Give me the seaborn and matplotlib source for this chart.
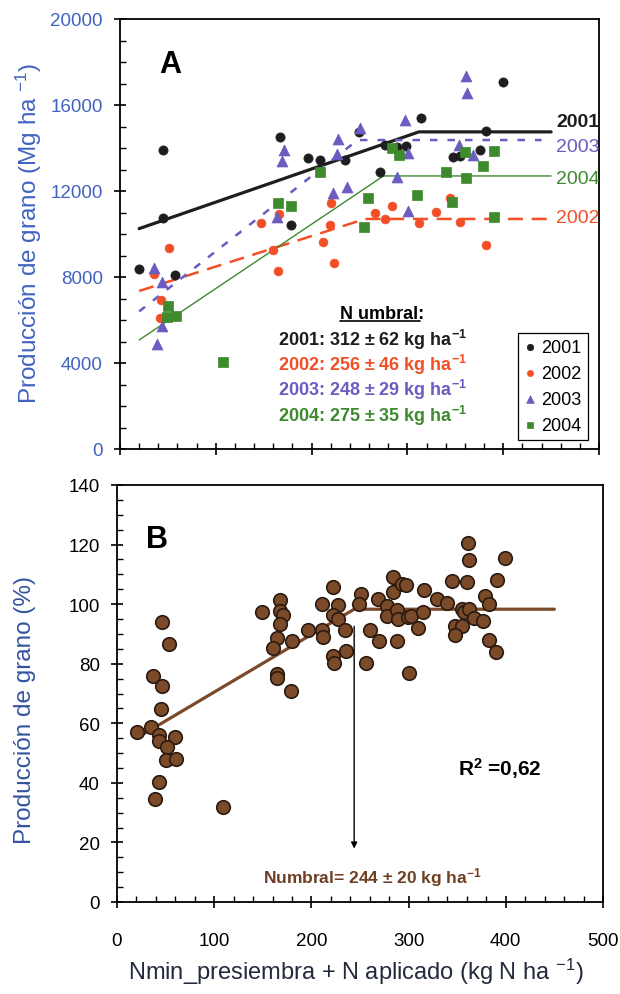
import pandas as pd
import seaborn as sns
import matplotlib.pyplot as plt
from matplotlib.ticker import MultipleLocator
from matplotlib.lines import Line2D

sns.set_style("ticks")
plt.rcParams['font.family'] = ['Liberation Sans', 'DejaVu Sans']
plt.rcParams['mathtext.fontset'] = 'custom'
plt.rcParams['mathtext.rm'] = 'Liberation Sans'
plt.rcParams['mathtext.it'] = 'Liberation Sans:italic'
plt.rcParams['mathtext.bf'] = 'Liberation Sans:bold'
plt.rcParams['text.color'] = 'black'
plt.rcParams['xtick.color'] = 'black'
plt.rcParams['ytick.color'] = 'black'

# ---- Panel A: grain yield (Mg/ha) per year ----
years = ['2001', '2002', '2003', '2004']
x_2001 = [45, 45, 167, 196, 209, 235, 178, 249, 314, 400, 382, 277, 289, 299, 348, 355, 376, 271, 20, 57]
y_2001 = [13900, 10750, 14500, 13550, 13450, 13450, 10400, 14750, 15400, 17070, 14800, 14140, 14050, 14090,
          13600, 13650, 13900, 12880, 8350, 8100]
x_2002 = [51, 35, 43, 42, 147, 166, 160, 165, 212, 223, 219, 220, 266, 277, 284, 312, 330, 344, 355, 382]
y_2002 = [9350, 8150, 6950, 6100, 10500, 10950, 9250, 8300, 9650, 8650, 10400, 11450, 10970, 10700, 11300,
          10500, 11020, 11670, 10560, 9500]
x_2003 = [35, 44, 44, 39, 171, 169, 164, 228, 227, 222, 237, 251, 297, 301, 289, 301, 354, 368, 361, 362]
y_2003 = [8400, 7770, 5720, 4880, 13900, 13400, 10800, 14400, 13700, 11900, 12200, 14930, 15300, 13770,
          12650, 11070, 14140, 13680, 17350, 16560]
x_2004 = [50, 49, 58, 108, 165, 178, 209, 284, 291, 259, 310, 347, 340, 361, 360, 390, 379, 390, 255]
y_2004 = [6650, 6150, 6200, 4050, 11450, 11300, 12900, 14000, 13680, 11670, 11800, 11500, 12880, 12600,
          13800, 13870, 13160, 10800, 10330]

# fitted plateau lines (vertices)
fit_x = {'2001': [20, 312, 450], '2002': [20, 256, 450], '2003': [20, 248, 440], '2004': [20, 275, 450]}
fit_y = {'2001': [10250, 14750, 14750], '2002': [7350, 10700, 10700],
         '2003': [6400, 14370, 14370], '2004': [5070, 12700, 12700]}
umbral = {'2001': '312 ± 62', '2002': '256 ± 46', '2003': '248 ± 29', '2004': '275 ± 35'}

# ---- Panel B: relative yield (%) ----
xb = [46, 53, 149.5, 168, 168, 170.5, 168, 165, 180, 161, 222.5, 210.5, 227.7, 222.5, 227.7, 196, 210.5,
      211.5, 234.6, 236, 222.5, 223.5, 250.7, 249.3, 268.8, 277.4, 277.4, 260.3, 270, 288.3, 256, 284.3,
      284.3, 292.8, 297.3, 288.3, 289.4, 299, 302.5, 309.4, 314.5, 315.8, 300.7, 329.5, 339.8, 344.3,
      359.7, 360.8, 362, 354.6, 357, 362.5, 347.7, 355.2, 347.7, 367.6, 376.1, 378.6, 382.7, 390.6, 399.2,
      382.7, 389.9, 36.7, 46.6, 45, 20.9, 34.7, 43.5, 43.5, 59.7, 51.1, 50.4, 60.7, 43.5, 39.1, 108.7,
      165, 165, 178.7]
yb = [93.9, 86.6, 97.5, 101.3, 97.8, 96.4, 93.3, 88.8, 87.7, 85.4, 105.8, 100.2, 99.7, 96.4, 95.0, 91.3,
      91.3, 89.0, 91.3, 84.3, 82.7, 80.4, 103.4, 100.2, 101.7, 99.4, 96.0, 91.3, 87.5, 87.5, 80.4, 109,
      104.1, 106.7, 106.5, 98.1, 95.0, 95.7, 96.0, 92.1, 97.2, 104.7, 77.0, 101.7, 100.3, 107.8, 107.3,
      120.4, 114.8, 98.3, 97.2, 98.5, 92.7, 92.7, 89.7, 95.2, 94.2, 102.8, 100.2, 108.2, 115.4, 88, 84,
      75.9, 72.6, 64.8, 57.1, 58.6, 56, 54.1, 55.3, 52.1, 47.8, 48, 40.4, 34.6, 31.8, 76.5, 75.2, 70.7]
fitb_x = [20, 244, 450]
fitb_y = [55, 98.3, 98.3]

colors = {'2001': '#1e1e1e', '2002': '#f24f26', '2003': '#6a5cc0', '2004': '#3d8a2f'}
markers = {'2001': 'o', '2002': 'o', '2003': '^', '2004': 's'}
msize = {'2001': 44, '2002': 40, '2003': 62, '2004': 42}
styles = {'2001': dict(lw=2.3, ls='-'), '2002': dict(lw=1.8, ls=(0, (6, 3.5))),
          '2003': dict(lw=1.8, ls=(0, (3, 4))), '2004': dict(lw=1.0, ls='-')}
blue = '#4063c0'
brown = '#6e3f22'

dfa = pd.concat([
    pd.DataFrame({'N': x_2001, 'rend': y_2001, 'year': '2001'}),
    pd.DataFrame({'N': x_2002, 'rend': y_2002, 'year': '2002'}),
    pd.DataFrame({'N': x_2003, 'rend': y_2003, 'year': '2003'}),
    pd.DataFrame({'N': x_2004, 'rend': y_2004, 'year': '2004'}),
])
dfb = pd.DataFrame({'N': xb, 'rel': yb})

fig = plt.figure(figsize=(6.2, 9.95), dpi=100)
axA = fig.add_axes([120 / 620, 1 - 450 / 995, 479 / 620, 430 / 995])
axB = fig.add_axes([117 / 620, 1 - 903 / 995, 486 / 620, 417 / 995])

# fitted lines first
for yr in years:
    axA.plot(fit_x[yr], fit_y[yr], color=colors[yr], zorder=2, **styles[yr])

for yr in years:
    d = dfa[dfa['year'] == yr]
    sns.scatterplot(data=d, x='N', y='rend', ax=axA, color=colors[yr], marker=markers[yr],
                    s=msize[yr], edgecolor=colors[yr], linewidth=0.5, label=yr, zorder=3)

axA.legend(loc='lower right', bbox_to_anchor=(0.977, 0.02), frameon=True, fancybox=False,
           edgecolor='black', framealpha=1, fontsize=13, markerscale=0.7, handlelength=0.6,
           handletextpad=0.35, labelspacing=0.5, borderpad=0.35, borderaxespad=0)
axA.get_legend().get_frame().set_linewidth(0.9)

axA.set_xlim(0, 500)
axA.set_ylim(0, 20000)
axA.xaxis.set_major_locator(MultipleLocator(100))
axA.xaxis.set_minor_locator(MultipleLocator(20))
axA.yaxis.set_major_locator(MultipleLocator(4000))
axA.yaxis.set_minor_locator(MultipleLocator(1000))
axA.set_xticklabels([])
axA.set_xlabel('')
axA.set_ylabel('Producción de grano (Mg ha $^{-1}$)', fontsize=17.5, color=blue, va='center')
axA.yaxis.set_label_coords(-0.19, 0.505)
axA.tick_params(axis='y', labelcolor=blue)

# year labels at the right
lab_y = {'2001': 15250, '2003': 14050, '2004': 12560, '2002': 10790}
for yr in years:
    axA.text(455, lab_y[yr], yr, color=colors[yr], fontsize=14,
             fontweight='bold' if yr == '2001' else 'normal', va='center', ha='left')

axA.text(52, 17900, 'A', fontsize=22, fontweight='bold', ha='center', va='center')
t_umb = axA.text(274, 6300, 'N umbral:', fontsize=13, fontweight='bold', ha='center', va='center')
umb_y = {'2001': 5116, '2002': 3953, '2003': 2790, '2004': 1581}
for yr in years:
    axA.text(165, umb_y[yr], yr + ': ' + umbral[yr] + r' kg ha$^{\mathbf{-1}}$', color=colors[yr],
             fontsize=13, fontweight='bold', ha='left', va='center')

# ---- Panel B ----
axB.plot(fitb_x, fitb_y, color='#7a4a2a', lw=2.3, zorder=2)
sns.scatterplot(data=dfb, x='N', y='rel', ax=axB, color='#7b4a28', edgecolor='#2a1a10',
                s=95, linewidth=1.2, zorder=3)
axB.set_xlim(0, 500)
axB.set_ylim(0, 140)
axB.xaxis.set_major_locator(MultipleLocator(100))
axB.xaxis.set_minor_locator(MultipleLocator(20))
axB.yaxis.set_major_locator(MultipleLocator(20))
axB.yaxis.set_minor_locator(MultipleLocator(5))
axB.set_ylabel('Producción de grano (%)', fontsize=17.5, color='#33549e', va='center')
axB.yaxis.set_label_coords(-0.189, 0.463)
axB.set_xlabel('Nmin_presiembra + N aplicado (kg N ha $^{-1}$)', fontsize=17, color='#232a3c',
               va='center')
axB.xaxis.set_label_coords(0.492, -0.165)

axB.text(41, 121.8, 'B', fontsize=22, fontweight='bold', ha='center', va='center')
axB.text(394, 45.3, r'R$^{\mathbf{2}}$ =0,62', fontsize=15, fontweight='bold', ha='center', va='center')
axB.annotate('', xy=(fitb_x[1], 17), xytext=(fitb_x[1], 93.5),
             arrowprops=dict(arrowstyle='-|>', color='black', lw=1.0, mutation_scale=9))
axB.text(150, 8.4, r'Numbral= 244 ± 20 kg ha$^{\mathbf{-1}}$', color=brown, fontsize=12.5,
         fontweight='bold', ha='left', va='center')

for ax in (axA, axB):
    for sp in ax.spines.values():
        sp.set_visible(True)
        sp.set_linewidth(1.3)
        sp.set_color('black')
    ax.tick_params(which='major', direction='inout', length=9, width=1.2, labelsize=13.5,
                   top=False, right=False)
    ax.tick_params(which='minor', direction='in', length=4, width=1.0, top=False, right=False)
    ax.tick_params(axis='x', pad=17)
    ax.tick_params(axis='y', pad=8)

# underline for "N umbral"
fig.canvas.draw()
bb = t_umb.get_window_extent()
h = fig.bbox.height
x0 = bb.x0 / fig.bbox.width
x1 = (bb.x1 - 0.28 * bb.height) / fig.bbox.width
yl = (bb.y0 + 1) / h
fig.add_artist(Line2D([x0, x1], [yl, yl], color='black', lw=1.2, transform=fig.transFigure))

fig.savefig('out.png', dpi=100)
